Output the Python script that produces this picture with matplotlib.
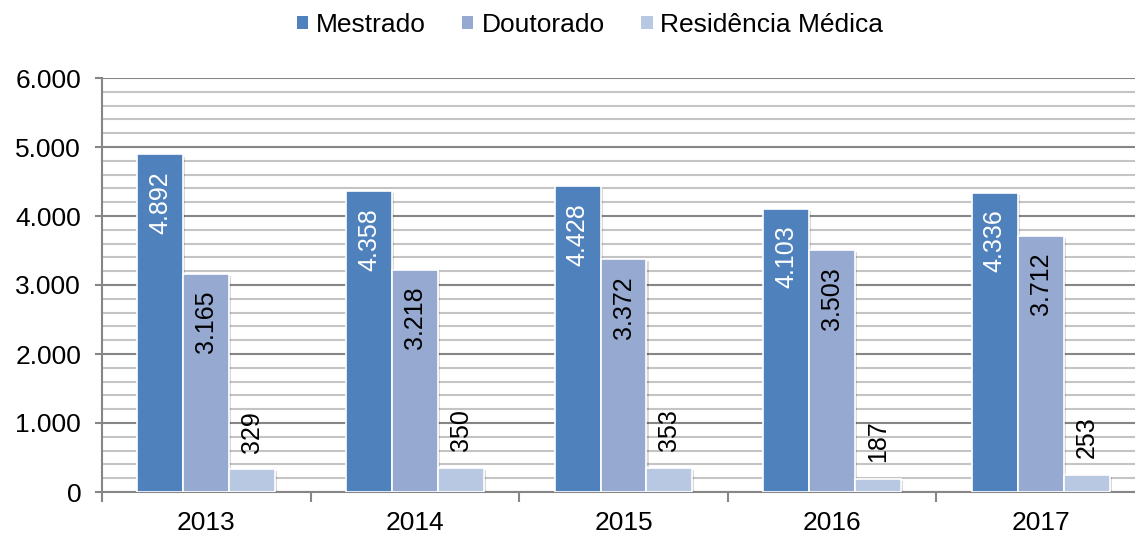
import matplotlib.pyplot as plt
import matplotlib.patheffects as pe
from matplotlib.patches import Patch
import numpy as np
from matplotlib.ticker import MultipleLocator, FuncFormatter

anos = ["2013", "2014", "2015", "2016", "2017"]
mestrado = [4892, 4358, 4428, 4103, 4336]
doutorado = [3165, 3218, 3372, 3503, 3712]
residencia = [329, 350, 353, 187, 253]

series = ["Mestrado", "Doutorado", "Residência Médica"]
cores = ["#4F81BD", "#95A9D1", "#B9C8E2"]


def fmt(v):
    return f"{v:,.0f}".replace(",", ".")


def main():
    plt.rcParams["font.family"] = ["Liberation Sans", "DejaVu Sans"]
    fig = plt.figure(figsize=(11.35, 5.36), dpi=100)
    ax = fig.add_axes([102 / 1135, 44 / 536, 1043 / 1135, 414 / 536])

    x = np.arange(len(anos))
    w = 0.22
    sombra = [pe.SimplePatchShadow(offset=(1.5, -1.5), alpha=0.15, shadow_rgbFace="black"), pe.Normal()]
    barras = []
    for i, (vals, cor) in enumerate(zip([mestrado, doutorado, residencia], cores)):
        b = ax.bar(x + (i - 1) * w, vals, w, color=cor, edgecolor="white", linewidth=1.2, zorder=3)
        for r in b:
            r.set_path_effects(sombra)
        barras.append(b)

    # rotulos: dentro do topo para mestrado/doutorado, acima da barra para residencia
    for r, v in zip(barras[0], mestrado):
        ax.annotate(fmt(v), (r.get_x() + r.get_width() / 2, v), xytext=(0, -12),
                    textcoords="offset points", rotation=90, ha="center", va="top",
                    color="white", fontsize=18, zorder=5)
    for r, v in zip(barras[1], doutorado):
        ax.annotate(fmt(v), (r.get_x() + r.get_width() / 2, v), xytext=(0, -12),
                    textcoords="offset points", rotation=90, ha="center", va="top",
                    color="black", fontsize=18, zorder=5)
    for r, v in zip(barras[2], residencia):
        ax.annotate(fmt(v), (r.get_x() + r.get_width() / 2, v), xytext=(0, 12),
                    textcoords="offset points", rotation=90, ha="center", va="bottom",
                    color="black", fontsize=18, zorder=5)

    ax.set_xlim(-0.5, len(anos) - 0.5)
    ax.set_ylim(0, 6000)
    ax.yaxis.set_major_locator(MultipleLocator(1000))
    ax.yaxis.set_minor_locator(MultipleLocator(200))
    ax.yaxis.set_major_formatter(FuncFormatter(lambda v, p: fmt(v)))
    ax.grid(axis="y", which="major", color="#868686", linewidth=1.5, zorder=0)
    ax.grid(axis="y", which="minor", color="#C4C4C4", linewidth=1.5, zorder=0)
    ax.set_axisbelow(True)

    ax.set_xticks(x)
    ax.set_xticklabels(anos)
    ax.set_xticks(np.arange(-0.5, len(anos)), minor=True)
    ax.tick_params(axis="x", which="major", length=0, labelsize=19, pad=14)
    ax.tick_params(axis="x", which="minor", length=7, width=1.5, color="#868686")
    ax.tick_params(axis="y", which="major", length=5, width=1.5, color="#868686", labelsize=19, pad=10)
    ax.tick_params(axis="y", which="minor", length=0)

    for s in ["top", "right"]:
        ax.spines[s].set_visible(False)
    for s in ["left", "bottom"]:
        ax.spines[s].set_color("#868686")
        ax.spines[s].set_linewidth(1.5)

    handles = [Patch(facecolor=c, edgecolor="none") for c in cores]
    fig.legend(handles, series, loc="center", bbox_to_anchor=(590 / 1135, 1 - 25 / 536), ncol=3,
               frameon=False, fontsize=19, handlelength=0.42, handleheight=0.42,
               handletextpad=0.3, columnspacing=1.4)

    plt.savefig("out.png", dpi=100)


if __name__ == "__main__":
    main()
